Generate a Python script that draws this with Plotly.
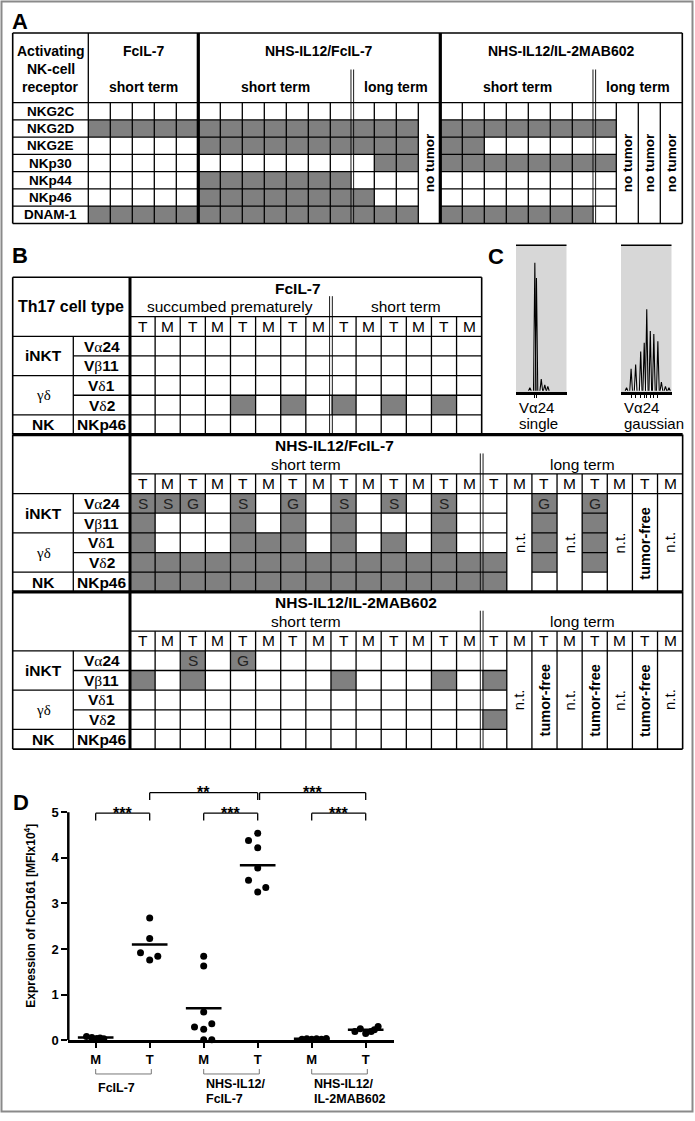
import plotly.graph_objects as go

W, H = 695, 1121
FONT = "Liberation Sans, Arial, Helvetica, sans-serif"
SERIF = "Liberation Serif, Times New Roman, serif"
GREY = "#808080"

# ======================= DATA =======================
# Panel A: '#' expressed (grey), '.' not expressed, 'n' = no tumor (merged column)
A_receptors = ["NKG2C", "NKG2D", "NKG2E", "NKp30", "NKp44", "NKp46", "DNAM-1"]
A_groups = ["FcIL-7", "NHS-IL12/FcIL-7", "NHS-IL12/IL-2MAB602"]
A_header = ["Activating", "NK-cell", "receptor"]
A_fcil7_short = [".....", "#####", ".....", ".....", ".....", ".....", "#####"]
A_nhs_short = [".......", "#######", "#######", ".......", "#######", "#######", "#######"]
A_nhs_long = ["...n", "###n", "###n", ".##n", "...n", "#..n", "###n"]
A_il2_short = [".......", "#######", "##.....", "#######", ".......", ".......", "#######"]
A_il2_long = [".nnn", "#nnn", ".nnn", "#nnn", ".nnn", ".nnn", ".nnn"]

# Panel B: '#' grey, 'S' single, 'G' gaussian, 'n' not tested, 'f' tumor-free
B_sections = ["FcIL-7", "NHS-IL12/FcIL-7", "NHS-IL12/IL-2MAB602"]
B_cell_groups = ["iNKT", "γδ", "NK"]
B_group_sizes = [2, 2, 1]
B_markers = ["Vα24", "Vβ11", "Vδ1", "Vδ2", "NKp46"]
B_tm = ["T", "M"]
B_fcil7_succ = ["........", "........", "........", "....#.#.", "........"]
B_fcil7_short = ["......", "......", "......", "#.#.#.", "......"]
B_nhs_short = ["SSG.S.G.S.S.S.", "#...#.#.#...#.", "#...###.#.#.#.", "##############", "##############"]
B_nhs_long = [".nGnGnfn", ".n#n#nfn", ".n#n#nfn", "#n#n#nfn", "#n.n.nfn"]
B_il2_short = ["..S.G.........", "#.#.....#...#.", "..............", "..............", ".............."]
B_il2_long = [".nfnfnfn", "#nfnfnfn", ".nfnfnfn", "#nfnfnfn", ".nfnfnfn"]

# Panel C: spectratype peaks (relative position, relative height)
C_single_pos = [27.5, 37.3, 40.5, 50, 57, 63]
C_single_h = [0.02, 0.88, 0.775, 0.08, 0.04, 0.03]
C_gauss_pos = [11, 20, 29, 39, 46, 51, 58, 65, 73, 80, 88, 95]
C_gauss_h = [0.02, 0.15, 0.18, 0.27, 0.33, 0.56, 0.41, 0.39, 0.34, 0.06, 0.03, 0.02]

# Panel D: hCD161 expression [MFI x10^4]
D_categories = ["M", "T", "M", "T", "M", "T"]
D_groups = [["FcIL-7"], ["NHS-IL12/", "FcIL-7"], ["NHS-IL12/", "IL-2MAB602"]]
D_fcil7_M = [0.08, 0.06, 0.04, 0.05, 0.03]
D_fcil7_T = [2.68, 2.23, 1.92, 1.84, 1.76]
D_nhs_M = [1.84, 1.63, 0.62, 0.29, 0.24, 0.36, 0.01, 0.01]
D_nhs_T = [4.54, 4.38, 4.22, 3.78, 3.51, 3.35, 3.25]
D_il2_M = [0.02, 0.03, 0.02, 0.03, 0.02, 0.04]
D_il2_T = [0.19, 0.25, 0.15, 0.19, 0.23, 0.30]
D_jit_fcil7_M = [-0.17, -0.07, 0.02, 0.08, 0.15]
D_jit_fcil7_T = [0.0, 0.0, -0.17, 0.15, 0.0]
D_jit_nhs_M = [0.0, 0.0, 0.0, -0.17, 0.0, 0.15, 0.0, 0.15]
D_jit_nhs_T = [0.0, -0.17, 0.0, 0.0, -0.17, 0.15, 0.0]
D_jit_il2_M = [-0.18, -0.09, 0.0, 0.09, 0.18, 0.27]
D_jit_il2_T = [-0.2, -0.1, 0.0, 0.1, 0.16, 0.23]
D_means = [0.06, 2.1, 0.7, 3.84, 0.03, 0.23]
D_sig_pairs = [(0, 1), (2, 3), (4, 5), (1, 3), (3, 5)]
D_sig_labels = ["***", "***", "***", "**", "***"]
D_sig_levels = [0, 0, 0, 1, 1]

# ======================= HELPERS =======================
fig = go.Figure()
annotations = []
shapes = []


def xdom(p0, p1):
    return [p0 / W, p1 / W]


def ydom(p0, p1):
    return [1 - p1 / H, 1 - p0 / H]


def text(x, y, s, xref, yref, size, bold=False, angle=0, xanchor="center",
         yanchor="middle", family=FONT, color="black"):
    annotations.append(dict(x=x, y=y, text=s, xref=xref, yref=yref, showarrow=False,
                            textangle=angle, xanchor=xanchor, yanchor=yanchor,
                            font=dict(family=family, size=size, color=color,
                                      weight="bold" if bold else "normal")))


class Grid:
    def __init__(self, xa, ya):
        self.xa, self.ya, self.segs = xa, ya, {}

    def line(self, x0, y0, x1, y1, w=1.3):
        xs, ys = self.segs.setdefault(w, ([], []))
        xs += [x0, x1, None]
        ys += [y0, y1, None]

    def add(self, f):
        for w, (xs, ys) in self.segs.items():
            f.add_trace(go.Scatter(x=xs, y=ys, xaxis=self.xa, yaxis=self.ya, mode="lines",
                                   line=dict(color="black", width=w), hoverinfo="skip",
                                   showlegend=False))


def cell_val(c):
    if c in "#SG":
        return 1
    if c == ".":
        return 0
    return None


def heat(rows, y0, xa, ya):
    z = [[cell_val(c) for c in r] for r in rows]
    fig.add_trace(go.Heatmap(z=z, x=[j + 0.5 for j in range(len(rows[0]))],
                             y=[y0 + i + 0.5 for i in range(len(rows))],
                             colorscale=[[0, "white"], [1, GREY]], zmin=0, zmax=1,
                             showscale=False, hoverinfo="skip", xaxis=xa, yaxis=ya))


def greek(s):
    out = ""
    for ch in s:
        if ch in "αβδ":
            out += "<span style='font-family:Liberation Serif;font-weight:normal'>%s</span>" % ch
        else:
            out += ch
    return out

# ======================= PANEL A =======================
A_X0, A_CW, A_Y0, A_RH = 88.3, 22.0, 103.3, 17.4
A_LX = (12.7 - A_X0) / A_CW
A_HT = (33.3 - A_Y0) / A_RH
A_DB = (70.0 - A_Y0) / A_RH
A_rows = [a + b + c + d + e for a, b, c, d, e in
          zip(A_fcil7_short, A_nhs_short, A_nhs_long, A_il2_short, A_il2_long)]
nA = len(A_rows[0])
nR = len(A_rows)
cb1 = len(A_fcil7_short[0])
cd1 = cb1 + len(A_nhs_short[0])
cb2 = cd1 + len(A_nhs_long[0])
cd2 = cb2 + len(A_il2_short[0])

heat(A_rows, 0, "x", "y")
gA = Grid("x", "y")
gA.line(A_LX, A_HT, nA, A_HT, 1.6)
gA.line(A_LX, nR, nA, nR, 1.6)
gA.line(A_LX, A_HT, A_LX, nR, 1.6)
gA.line(nA, A_HT, nA, nR, 1.6)
gA.line(A_LX, 0, nA, 0)
gA.line(0, A_HT, 0, nR)
for r in range(1, nR):
    gA.line(A_LX, r, 0, r)
    for j in range(nA):
        if A_rows[r - 1][j] != "n" and A_rows[r][j] != "n":
            gA.line(j, r, j + 1, r)
dA = 0.06
for j in range(1, nA):
    if j in (cb1, cb2):
        gA.line(j, A_HT, j, nR, 3.2)
    elif j in (cd1, cd2):
        gA.line(j - dA, A_DB, j - dA, nR, 0.9)
        gA.line(j + dA, A_DB, j + dA, nR, 0.9)
    else:
        gA.line(j, 0, j, nR)
gA.add(fig)

rA_title = (51.7 - A_Y0) / A_RH
rA_sub = (87.3 - A_Y0) / A_RH
for k, line_txt in enumerate(A_header):
    text(A_LX / 2, (51.7 + 17.8 * k - A_Y0) / A_RH, line_txt, "x", "y", 14, bold=True)
for name, (a, b) in zip(A_groups, [(0, cb1), (cb1, cb2), (cb2, nA)]):
    text((a + b) / 2, rA_title, name, "x", "y", 14, bold=True)
for name, (a, b) in zip(["short term", "short term", "long term", "short term", "long term"],
                        [(0, cb1), (cb1, cd1), (cd1, cb2), (cb2, cd2), (cd2, nA)]):
    text((a + b) / 2, rA_sub, name, "x", "y", 14, bold=True)
for i, rec in enumerate(A_receptors):
    text(A_LX / 2, i + 0.5, rec, "x", "y", 13.5, bold=True)
for j in range(nA):
    if all(r[j] == "n" for r in A_rows):
        text(j + 0.5, nR / 2, "no tumor", "x", "y", 13.5, bold=True, angle=-90)

fig.update_layout(
    xaxis=dict(domain=xdom(6, 688), range=[(6 - A_X0) / A_CW, (688 - A_X0) / A_CW],
               visible=False, fixedrange=True),
    yaxis=dict(domain=ydom(26, 232), range=[(232 - A_Y0) / A_RH, (26 - A_Y0) / A_RH],
               visible=False, fixedrange=True))

# ======================= PANEL B =======================
B_X0, B_CW, B_Y0, B_RH = 130.0, 25.12, 279.3, 19.8
B_LX = (12.7 - B_X0) / B_CW
B_LS = (73.3 - B_X0) / B_CW
B_TITLE_U = (273.0 - B_X0) / B_CW
SEC = 8
sections = [
    (B_sections[0], [("succumbed prematurely", len(B_fcil7_succ[0])), ("short term", len(B_fcil7_short[0]))],
     [a + b for a, b in zip(B_fcil7_succ, B_fcil7_short)]),
    (B_sections[1], [("short term", len(B_nhs_short[0])), ("long term", len(B_nhs_long[0]))],
     [a + b for a, b in zip(B_nhs_short, B_nhs_long)]),
    (B_sections[2], [("short term", len(B_il2_short[0])), ("long term", len(B_il2_long[0]))],
     [a + b for a, b in zip(B_il2_short, B_il2_long)]),
]
gB = Grid("x2", "y2")
dB = 0.055
prev_nc = 0
for s, (title, phases, rows) in enumerate(sections):
    top = s * SEC
    nc = len(rows[0])
    p = phases[0][1]
    d0 = top + 3
    heat(rows, d0, "x2", "y2")
    gB.line(B_LX, top, max(nc, prev_nc), top, 1.6 if s == 0 else 3.2)
    gB.line(B_LX, top, B_LX, top + SEC, 1.6)
    gB.line(nc, top, nc, top + SEC, 1.6)
    gB.line(0, top, 0, top + SEC, 3.0)
    gB.line(B_LX, d0, 0, d0)
    gB.line(B_LS, d0, B_LS, top + SEC)
    for i in range(1, len(rows)):
        gB.line(B_LS, d0 + i, 0, d0 + i)
    acc = 0
    for gsz in B_group_sizes[:-1]:
        acc += gsz
        gB.line(B_LX, d0 + acc, B_LS, d0 + acc)
    gB.line(0, top + 2, nc, top + 2)
    gB.line(0, d0, nc, d0)
    for i in range(1, len(rows)):
        for j in range(nc):
            if rows[i - 1][j] not in "nf" and rows[i][j] not in "nf":
                gB.line(j, d0 + i, j + 1, d0 + i)
    for j in range(1, nc):
        if j == p:
            gB.line(j - dB, top + 0.96, j - dB, top + SEC, 0.9)
            gB.line(j + dB, top + 0.96, j + dB, top + SEC, 0.9)
        else:
            gB.line(j, top + 2, j, top + SEC)
    if s == len(sections) - 1:
        gB.line(B_LX, top + SEC, nc, top + SEC, 1.8)
    prev_nc = nc

    # texts
    text(B_TITLE_U, top + 0.55, title, "x2", "y2", 15.5, bold=True, xanchor="left")
    a = 0
    for pname, plen in phases:
        text(a + plen / 2, top + 1.5, pname, "x2", "y2", 15.5)
        a += plen
    for j in range(nc):
        text(j + 0.5, top + 2.5, B_tm[j % 2], "x2", "y2", 15.5)
    for j in range(nc):
        col = [r[j] for r in rows]
        if all(c == "n" for c in col):
            text(j + 0.5, d0 + len(rows) / 2, "n.t.", "x2", "y2", 15, angle=-90)
        elif all(c == "f" for c in col):
            text(j + 0.5, d0 + len(rows) / 2, "tumor-free", "x2", "y2", 14.5, bold=True, angle=-90)
        else:
            for i, c in enumerate(col):
                if c in "SG":
                    text(j + 0.5, d0 + i + 0.5, c, "x2", "y2", 15.5, color="#222")
    if s == 0:
        text(B_LX / 2, 1.5, "Th17 cell type", "x2", "y2", 16, bold=True)
    acc = 0
    for gname, gsz in zip(B_cell_groups, B_group_sizes):
        if gname == "γδ":
            text((B_LX + B_LS) / 2, d0 + acc + gsz / 2, gname, "x2", "y2", 15, family=SERIF)
        else:
            text((B_LX + B_LS) / 2, d0 + acc + gsz / 2, gname, "x2", "y2", 15.5, bold=True)
        acc += gsz
    for i, m in enumerate(B_markers):
        text(B_LS / 2, d0 + i + 0.5, greek(m), "x2", "y2", 15.5, bold=True)
gB.add(fig)

fig.update_layout(
    xaxis2=dict(domain=xdom(6, 688), range=[(6 - B_X0) / B_CW, (688 - B_X0) / B_CW],
                visible=False, fixedrange=True, anchor="y2"),
    yaxis2=dict(domain=ydom(272, 762), range=[(762 - B_Y0) / B_RH, (272 - B_Y0) / B_RH],
                visible=False, fixedrange=True, anchor="x2"))

# ======================= PANEL C =======================
def spectra(pos, hts, xa, ya, half):
    xs, ys = [], []
    for pp, hh in zip(pos, hts):
        xs += [pp - half, pp, pp + half, None]
        ys += [0, hh, 0, None]
    fig.add_trace(go.Scatter(x=xs, y=ys, xaxis=xa, yaxis=ya, mode="lines", fill="toself",
                             fillcolor="white", line=dict(color="black", width=1.1),
                             hoverinfo="skip", showlegend=False))


for k, (pos, hts, x0, labels) in enumerate([
        (C_single_pos, C_single_h, 516, ["Vα24", "single"]),
        (C_gauss_pos, C_gauss_h, 621, ["Vα24", "gaussian"])]):
    xa, ya = "x%d" % (3 + k), "y%d" % (3 + k)
    spectra(pos, hts, xa, ya, 2.6)
    fig.update_layout(**{
        "xaxis%d" % (3 + k): dict(domain=xdom(x0, x0 + 50.5), range=[0, 100], anchor=ya,
                                 showgrid=False, zeroline=False, showline=True, linewidth=2.5,
                                 linecolor="black", ticks="outside", ticklen=3, tickwidth=1,
                                 tickcolor="black", showticklabels=False,
                                 tickvals=[pp for pp, hh in zip(pos, hts) if hh > 0.1],
                                 fixedrange=True),
        "yaxis%d" % (3 + k): dict(domain=ydom(247, 395), range=[-0.01, 1.0], anchor=xa,
                                 visible=False, fixedrange=True)})
    shapes.append(dict(type="rect", xref=xa + " domain", yref=ya + " domain", x0=0, x1=1, y0=0, y1=1,
                       fillcolor="#d7d7d7", line=dict(width=0), layer="below"))
    shapes.append(dict(type="line", xref=xa + " domain", yref=ya + " domain", x0=0, x1=1, y0=1, y1=1,
                       line=dict(color="black", width=1.5)))
    text((x0 + 1) / W, 1 - 410 / H, labels[0], "paper", "paper", 15, xanchor="left")
    text((x0 + 1) / W, 1 - 427 / H, labels[1], "paper", "paper", 15, xanchor="left")

# ======================= PANEL D =======================
D_vals = [D_fcil7_M, D_fcil7_T, D_nhs_M, D_nhs_T, D_il2_M, D_il2_T]
D_jits = [D_jit_fcil7_M, D_jit_fcil7_T, D_jit_nhs_M, D_jit_nhs_T, D_jit_il2_M, D_jit_il2_T]
px, py = [], []
for k, (vals, jit) in enumerate(zip(D_vals, D_jits)):
    px += [k + j for j in jit]
    py += vals
fig.add_trace(go.Scatter(x=px, y=py, xaxis="x5", yaxis="y5", mode="markers",
                         marker=dict(color="black", size=7), cliponaxis=False,
                         hoverinfo="skip", showlegend=False))
gD = Grid("x5", "y5")
for k, m in enumerate(D_means):
    gD.line(k - 0.33, m, k + 0.33, m, 2.5)
lvl_y = [4.98, 5.43]
drop = 0.16
for (a, b), lab, lv in zip(D_sig_pairs, D_sig_labels, D_sig_levels):
    xa0 = a
    if any(pb == a and plv == lv for (pa, pb), plv in zip(D_sig_pairs, D_sig_levels)):
        xa0 = a + 0.035
    y = lvl_y[lv]
    gD.line(xa0, y - drop, xa0, y, 1.3)
    gD.line(xa0, y, b, y, 1.3)
    gD.line(b, y, b, y - drop, 1.3)
    text((xa0 + b) / 2, y, lab, "x5", "y5", 16, bold=True)
gD.add(fig)
shapes.append(dict(type="line", xref="x5 domain", yref="y5", x0=0, x1=0, y0=0, y1=5,
                   line=dict(color="black", width=2.5)))
fig.update_layout(
    xaxis5=dict(domain=xdom(68.3, 394), range=[-0.507, 5.524], anchor="y5",
                tickvals=list(range(len(D_categories))), ticktext=D_categories,
                ticks="outside", ticklen=5, tickwidth=2, tickcolor="black",
                showline=True, linewidth=2.5, linecolor="black", showgrid=False, zeroline=False,
                tickfont=dict(family=FONT, size=13, color="black", weight="bold"), fixedrange=True),
    yaxis5=dict(domain=ydom(786, 1047.7), range=[0, 5.7], anchor="x5",
                tickvals=[0, 1, 2, 3, 4, 5], ticks="outside", ticklen=6, tickwidth=2,
                tickcolor="black", showline=False, showgrid=False, zeroline=False,
                tickfont=dict(family=FONT, size=13, color="black", weight="bold"), fixedrange=True))
text(30 / W, 2.73, "Expression of hCD161 [MFIx10<sup>4</sup>]", "paper", "y5", 12, bold=True, angle=-90)
yb0, yb1 = 1 - 1081.7 / H, 1 - 1076.7 / H
for g, lines in enumerate(D_groups):
    a, b = 2 * g, 2 * g + 1
    shapes.append(dict(type="path", xref="x5", yref="paper",
                       path="M %f,%f L %f,%f L %f,%f L %f,%f" % (a, yb1, a, yb0, b + 0.03, yb0, b + 0.03, yb1),
                       line=dict(color="#777777", width=1)))
    ys = [1095.5] if len(lines) == 1 else [1091.5, 1107]
    for ln, yy in zip(lines, ys):
        text(a, 1 - yy / H, ln, "x5", "paper", 12.5, bold=True, xanchor="left")

# ======================= PANEL LETTERS & FRAME =======================
for lab, cx, cy in [("A", 20, 21.5), ("B", 20, 257.5), ("C", 496, 258), ("D", 20.5, 808)]:
    text(cx / W, 1 - cy / H, lab, "paper", "paper", 22, bold=True)
shapes.append(dict(type="rect", xref="paper", yref="paper", x0=1.5 / W, x1=692.5 / W,
                   y0=1 - 1119.5 / H, y1=1 - 1.5 / H, line=dict(color="#8a8a8a", width=2)))

fig.update_layout(width=W, height=H, margin=dict(l=0, r=0, t=0, b=0), autosize=False,
                  paper_bgcolor="white", plot_bgcolor="rgba(0,0,0,0)", showlegend=False,
                  annotations=annotations, shapes=shapes, font=dict(family=FONT, color="black"))
fig.write_html(
    "out.html",
    config={"displayModeBar": False, "responsive": False},
    post_script=("var st=document.createElement('style');"
                 "st.innerHTML='html,body{margin:0;padding:0;overflow:hidden;height:%dpx;width:%dpx}';"
                 "document.head.appendChild(st);" % (H, W)))
